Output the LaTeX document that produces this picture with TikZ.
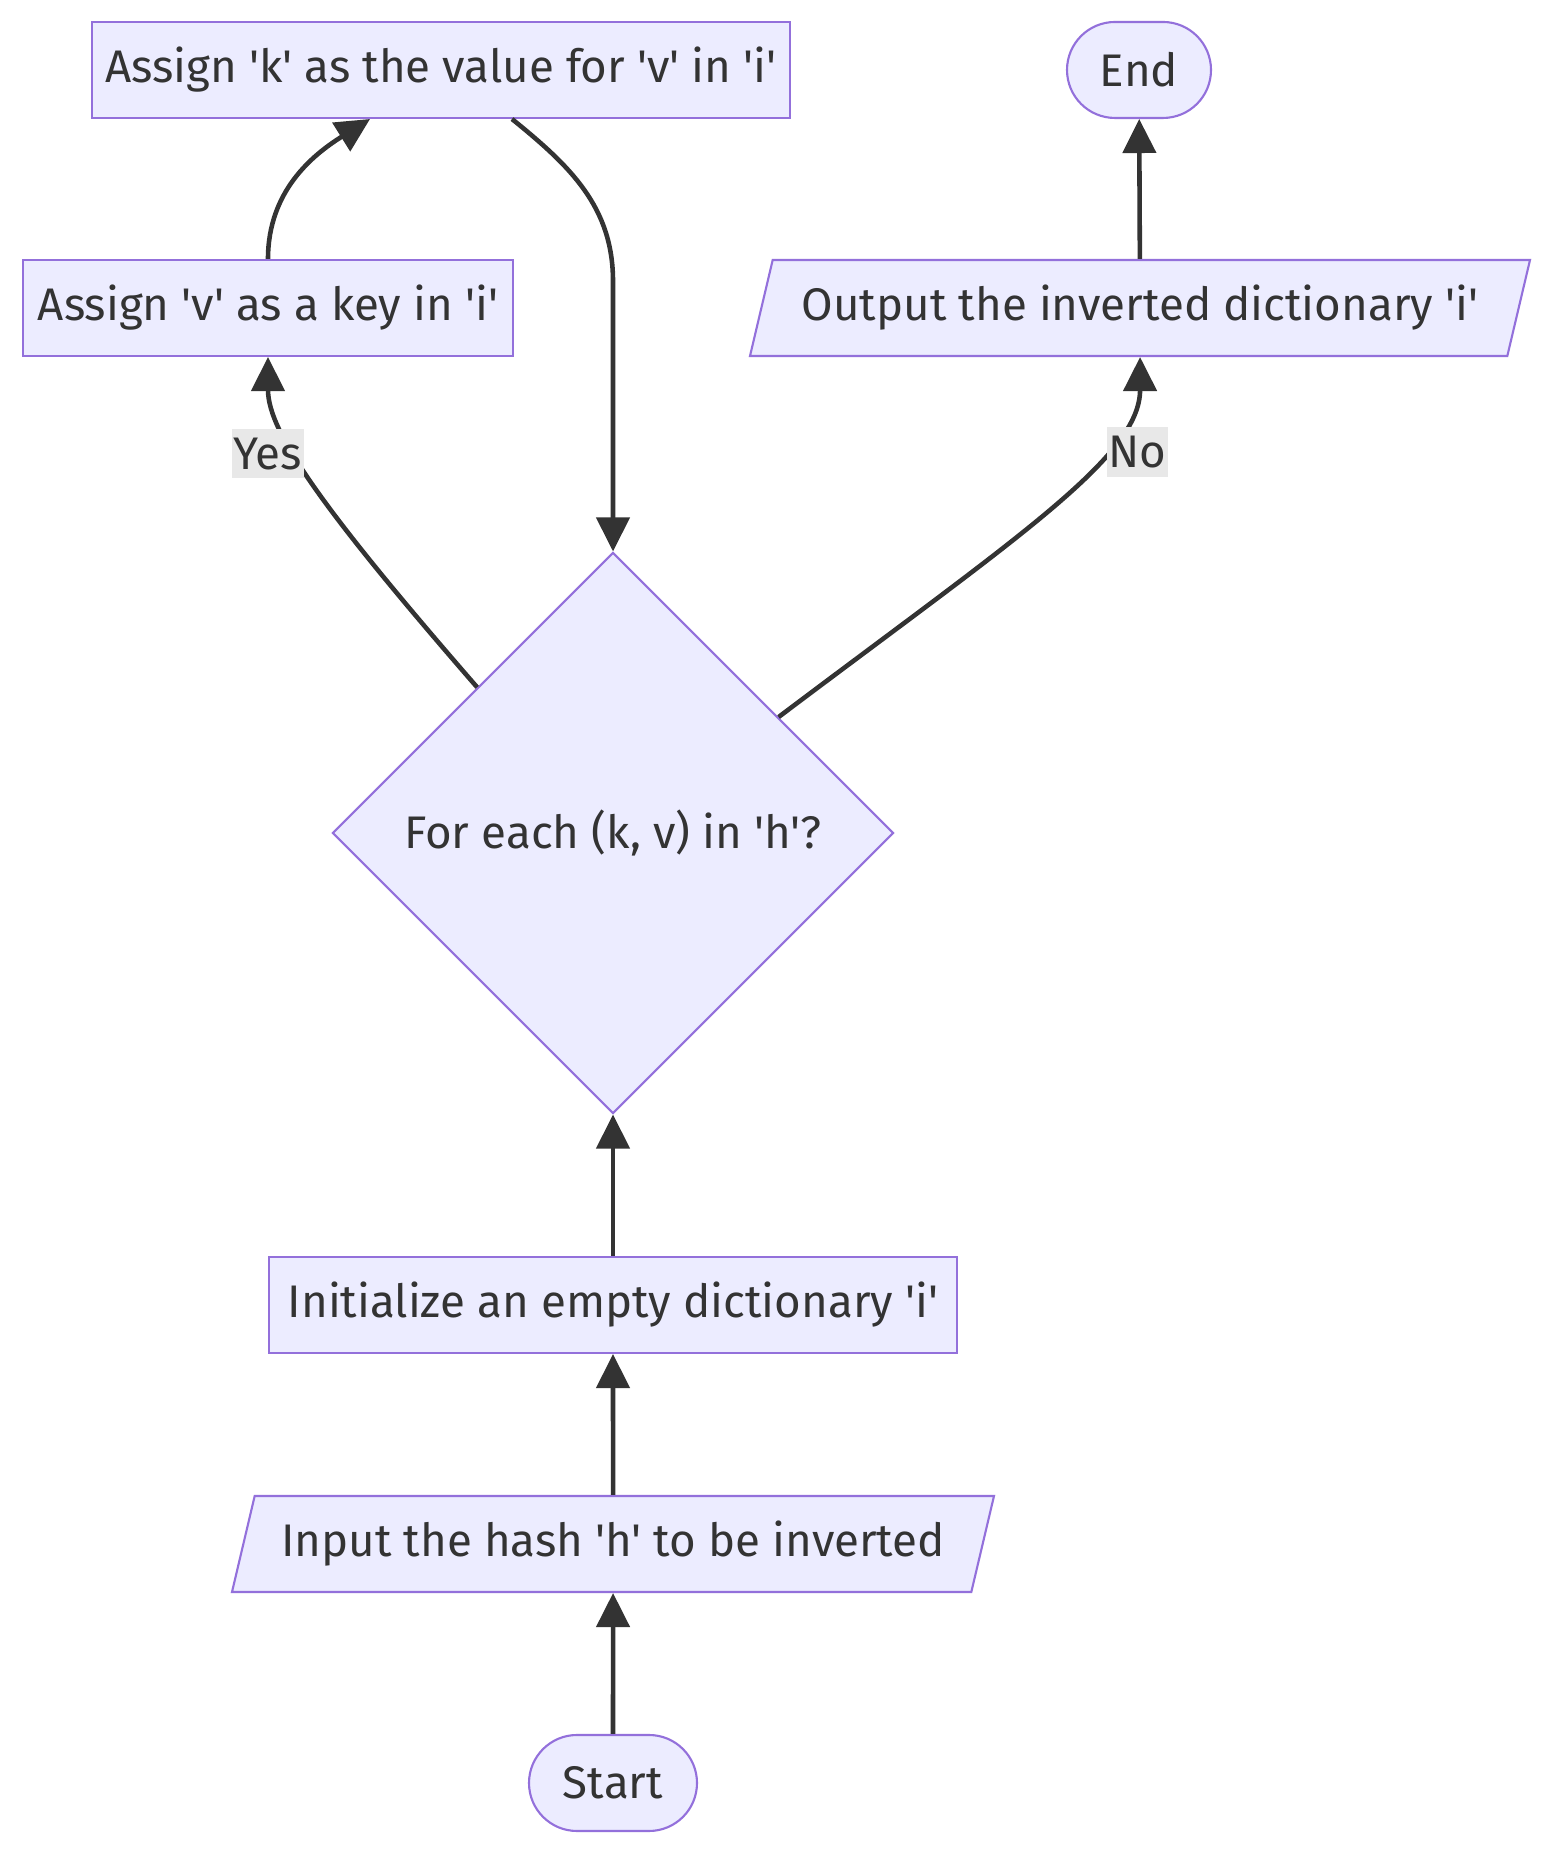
\documentclass[tikz,border=0pt]{standalone}
\usepackage{fontspec}
\setmainfont{Fira Sans}[Ligatures=TeXOff]
\usetikzlibrary{shapes.geometric, arrows.meta}

\definecolor{boxfill}{HTML}{ECECFF}
\definecolor{boxline}{HTML}{9370DB}
\definecolor{ink}{HTML}{333333}
\definecolor{lblfill}{HTML}{E8E8E8}

\begin{document}
\begin{tikzpicture}[
    font=\fontsize{13}{15}\selectfont,
    box/.style={draw=boxline, fill=boxfill, line width=0.6pt, text=ink, minimum height=0.96cm, inner sep=0pt},
    io/.style={box, trapezium, trapezium left angle=63.43, trapezium right angle=116.57, trapezium stretches body},
    term/.style={box, rounded corners=0.48cm},
    cond/.style={box, diamond, aspect=1},
    arr/.style={draw=ink, line width=1.3pt, -{Triangle[length=0.34cm, width=0.33cm]}},
    lbl/.style={fill=lblfill, text=ink, inner xsep=0.5pt, inner ysep=2.5pt}
  ]
            \useasboundingbox (0,0) rectangle (15.68,18.74);

            \node[term, minimum width=1.68cm] (start) at (6.13,0.91) {Start};
            \node[io, minimum width=7.62cm] (input) at (6.13,3.30) {Input the hash 'h' to be inverted};
            \node[box, minimum width=6.88cm] (init) at (6.13,5.69) {Initialize an empty dictionary 'i'};
            \node[cond, minimum size=5.61cm] (loop) at (6.13,10.41) {For each (k, v) in 'h'?};
            \node[box, minimum width=4.90cm] (addkey) at (2.68,15.66) {Assign 'v' as a key in 'i'};
            \node[box, minimum width=6.98cm] (setval) at (4.41,18.04) {Assign 'k' as the value for 'v' in 'i'};
            \node[io, minimum width=7.80cm] (output) at (11.40,15.66) {Output the inverted dictionary 'i'};
            \node[term, minimum width=1.44cm] (end) at (11.39,18.04) {End};

            \draw[arr] (start) -- (input);
            \draw[arr] (input) -- (init);
            \draw[arr] (init) -- (loop);
            \draw[arr] (loop.133) to[out=131, in=-90, out looseness=1.5, in looseness=0.5]
                node[lbl, pos=0.61, xshift=-0.29cm] {Yes} (addkey.south);
            \draw[arr] (addkey.north) to[out=90, in=-148] ([xshift=-0.71cm]setval.south);
            \draw[arr] ([xshift=0.71cm]setval.south) to[out=-39, in=90] ([yshift=2.7cm]loop.north) -- (loop.north);
            \draw[arr] (loop.35) to[out=37, in=-90, out looseness=1.5, in looseness=0.5]
                node[lbl, pos=0.675, xshift=0.36cm] {No} (output.south);
            \draw[arr] (output) -- (end);
        \end{tikzpicture}
\end{document}
